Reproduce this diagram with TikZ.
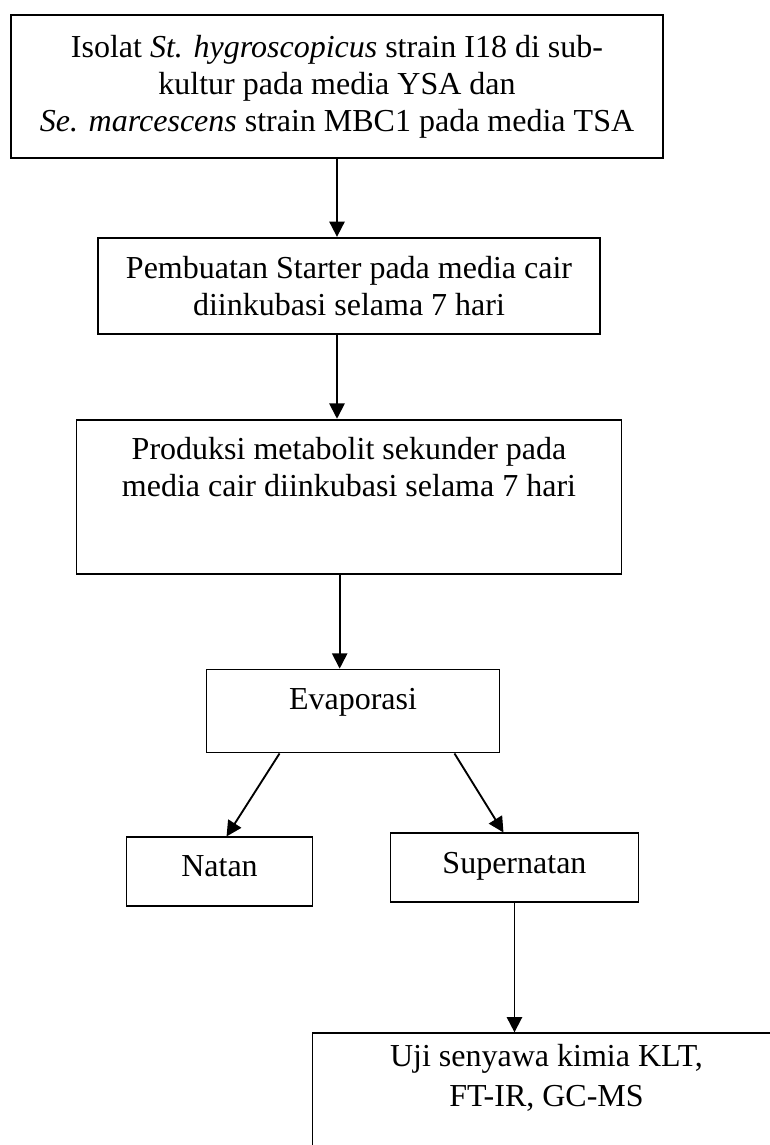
\documentclass[tikz,border=0pt]{standalone}
\usepackage{fontspec}
\setmainfont{Liberation Serif}
\usetikzlibrary{positioning,arrows.meta}

\begin{document}
\begin{tikzpicture}[
    kotak/.style={draw, rectangle, line width=1.4pt, align=center, inner xsep=0pt, inner ysep=0pt, font=\fontsize{24}{27.75}\selectfont},
    arr/.style={-{Triangle[length=11.5pt,width=11.5pt]}, line width=1.4pt}]
  \useasboundingbox (0,0) rectangle (577.5pt,-858.75pt);
  \clip (0,0) rectangle (577.5pt,-858.75pt);
  \node (isolat) [kotak, anchor=north, minimum width=489pt, minimum height=107.25pt] at (252.75pt,-10.5pt) {Isolat \textit{St. hygroscopicus} strain I18 di sub-\\ kultur pada media YSA dan\\ \textit{Se. marcescens} strain MBC1 pada media TSA};
  \node (starter) [kotak, below=58.5pt of isolat, xshift=9pt, minimum width=376.5pt, minimum height=72pt] {Pembuatan Starter pada media cair\\ diinkubasi selama 7 hari};
  \node (produksi) [kotak, below=63pt of starter, minimum width=408.75pt, minimum height=115.5pt] {Produksi metabolit sekunder pada\\ media cair diinkubasi selama 7 hari\\[16.4pt]\mbox{}};
  \node (evap) [kotak, below=70.5pt of produksi, xshift=3pt, minimum width=219.75pt, text height=30pt, text depth=32.25pt] {Evaporasi};
  \node (natan) [kotak, below=62.25pt of evap, xshift=-100.1pt, minimum width=139.5pt, text height=29.25pt, text depth=22.5pt] {Natan};
  \node (super) [kotak, below=59.25pt of evap, xshift=121.1pt, minimum width=186pt, text height=30pt, text depth=21.75pt] {Supernatan};
  \node (uji) [kotak, below=96.75pt of super, xshift=24pt, minimum width=351pt, inner ysep=8.4pt] {Uji senyawa kimia KLT,\\[2.25pt] FT-IR, GC-MS\\[20pt]\mbox{}};
  \path[arr] (isolat.south) edge (isolat.south |- starter.north);
  \path[arr] (starter.south -| isolat.south) edge (produksi.north -| isolat.south);
  \path[arr] ([xshift=-7pt]produksi.south) edge ([xshift=-7pt]produksi.south |- evap.north);
  \path[arr] ([xshift=-55.1pt]evap.south) edge ([xshift=5.25pt]natan.north);
  \path[arr] ([xshift=76.1pt]evap.south) edge ([xshift=-8.25pt]super.north);
  \path[arr] (super.south) edge (super.south |- uji.north);
\end{tikzpicture}
\end{document}
